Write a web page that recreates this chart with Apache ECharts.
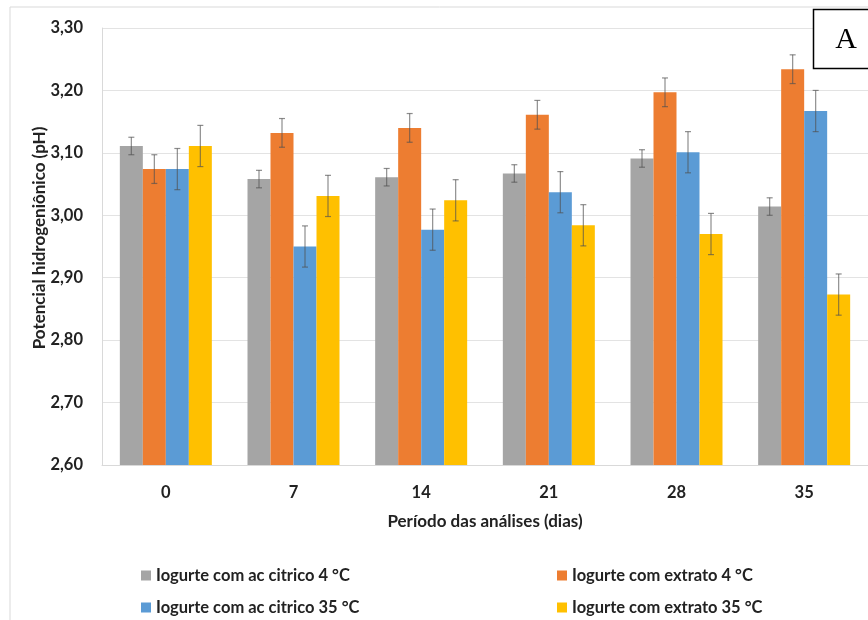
<!DOCTYPE html>
<html>
<head>
<meta charset="utf-8">
<script src="https://cdn.jsdelivr.net/npm/echarts@6/dist/echarts.min.js"></script>
<style>
  html, body { margin: 0; padding: 0; background: #fff; }
  #chart { width: 868px; height: 620px; }
</style>
</head>
<body>
<div id="chart"></div>
<script>
// Storage days
const days = ['0', '7', '14', '21', '28', '35'];

// Mean pH per storage day
const citric4 = [3.111, 3.058, 3.061, 3.067, 3.091, 3.014];
const extract4 = [3.074, 3.132, 3.140, 3.161, 3.197, 3.234];
const citric35 = [3.074, 2.950, 2.977, 3.037, 3.101, 3.167];
const extract35 = [3.111, 3.031, 3.024, 2.984, 2.970, 2.873];

// Standard deviation per storage day
const citric4Err = [0.014, 0.014, 0.014, 0.014, 0.014, 0.014];
const extract4Err = [0.023, 0.023, 0.023, 0.023, 0.023, 0.023];
const citric35Err = [0.033, 0.033, 0.033, 0.033, 0.033, 0.033];
const extract35Err = [0.033, 0.033, 0.033, 0.033, 0.033, 0.033];

// y-axis ticks
const yTicks = [2.6, 2.7, 2.8, 2.9, 3.0, 3.1, 3.2, 3.3];

const seriesNames = [
  'Iogurte com ac citrico 4 °C',
  'Iogurte com extrato 4 °C',
  'Iogurte com ac citrico 35 °C',
  'Iogurte com extrato 35 °C'
];
const colors = ['#A5A5A5', '#ED7D31', '#5B9BD5', '#FFC000'];
const means = [citric4, extract4, citric35, extract35];
const errs = [citric4Err, extract4Err, citric35Err, extract35Err];

const FONT = 'Lato';
const BAR_W = 23;

const barSeries = means.map((vals, i) => ({
  name: seriesNames[i],
  type: 'bar',
  data: vals,
  barWidth: BAR_W,
  barGap: '0%',
  itemStyle: { color: colors[i] },
  z: 2
}));

// Error bars drawn on top of each bar, offset to the bar's slot in the group
const errSeries = means.map((vals, i) => ({
  name: seriesNames[i] + ' err',
  type: 'custom',
  data: vals.map((v, k) => [k, v - errs[i][k], v + errs[i][k]]),
  encode: { x: 0, y: [1, 2] },
  z: 5,
  silent: true,
  renderItem: function (params, api) {
    const offset = (i - 1.5) * BAR_W;
    const lo = api.coord([api.value(0), api.value(1)]);
    const hi = api.coord([api.value(0), api.value(2)]);
    const x = lo[0] + offset;
    const cap = 3;
    const style = { stroke: 'rgba(80,80,80,0.65)', lineWidth: 1.2 };
    return {
      type: 'group',
      children: [
        { type: 'line', shape: { x1: x, y1: hi[1], x2: x, y2: lo[1] }, style: style },
        { type: 'line', shape: { x1: x - cap, y1: hi[1], x2: x + cap, y2: hi[1] }, style: style },
        { type: 'line', shape: { x1: x - cap, y1: lo[1], x2: x + cap, y2: lo[1] }, style: style }
      ]
    };
  }
}));

const legendText = { fontFamily: FONT, fontSize: 16.5, fontWeight: 'bold', color: '#222' };

const legendBase = {
  orient: 'vertical', top: 567, height: 53, padding: 0,
  itemWidth: 10, itemHeight: 10, itemGap: 15,
  icon: 'rect', textStyle: legendText
};

const option = {
  backgroundColor: '#fff',
  animation: false,
  grid: { left: 102, right: 0, top: 28, bottom: 155 },
  legend: [
    Object.assign({ data: [seriesNames[0], seriesNames[2]], left: 141 }, legendBase),
    Object.assign({ data: [seriesNames[1], seriesNames[3]], left: 557 }, legendBase)
  ],
  xAxis: {
    type: 'category',
    data: days,
    name: 'Período das análises (dias)',
    nameLocation: 'middle',
    nameGap: 48,
    nameTextStyle: { fontFamily: FONT, fontSize: 17, fontWeight: 'bold', color: '#222' },
    axisLine: { lineStyle: { color: '#d9d9d9', width: 1 } },
    axisTick: { show: false },
    axisLabel: { fontFamily: FONT, fontSize: 16.5, fontWeight: 'bold', color: '#222', margin: 19 }
  },
  yAxis: {
    type: 'value',
    min: yTicks[0],
    max: yTicks[yTicks.length - 1],
    interval: 0.1,
    axisLine: { show: true, lineStyle: { color: '#d9d9d9', width: 1 } },
    axisTick: { show: false },
    splitLine: { lineStyle: { color: '#e3e3e3', width: 1 } },
    axisLabel: {
      fontFamily: FONT, fontSize: 16.5, fontWeight: 'bold', color: '#222', margin: 19,
      formatter: v => v.toFixed(2).replace('.', ',')
    }
  },
  graphic: [
    {
      type: 'rect', silent: true, z: -10,
      shape: { x: 10, y: 7, width: 900, height: 700 },
      style: { fill: 'none', stroke: '#d9d9d9', lineWidth: 1 }
    },
    {
      type: 'text', silent: true,
      x: 40, y: 238, rotation: Math.PI / 2,
      style: {
        text: 'Potencial hidrogeniônico (pH)',
        fontFamily: FONT, fontSize: 17, fontWeight: 'bold', fill: '#222',
        align: 'center', verticalAlign: 'middle'
      }
    },
    {
      type: 'rect', silent: true, z: 10,
      shape: { x: 813.5, y: 9.5, width: 70, height: 59 },
      style: { fill: '#fff', stroke: '#000', lineWidth: 1.5 }
    },
    {
      type: 'text', silent: true, z: 11,
      x: 846, y: 40,
      style: {
        text: 'A', fontFamily: 'Liberation Serif', fontSize: 30, fill: '#000',
        align: 'center', verticalAlign: 'middle'
      }
    }
  ],
  series: barSeries.concat(errSeries)
};

const chart = echarts.init(document.getElementById('chart'), null, { renderer: 'canvas' });
chart.setOption(option);
</script>
</body>
</html>
